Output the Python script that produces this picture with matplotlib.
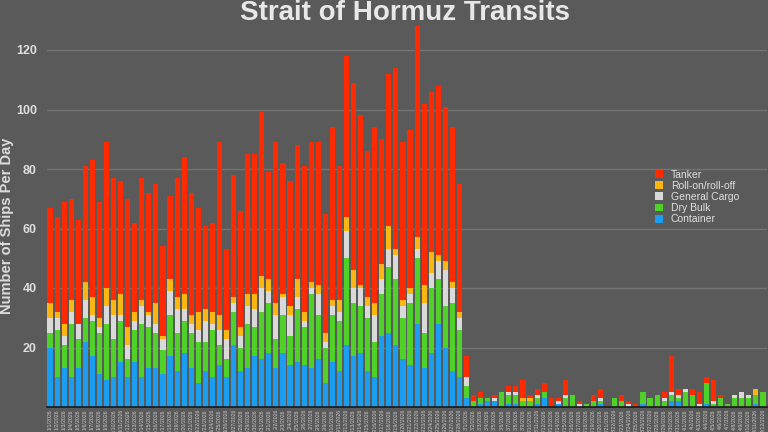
import matplotlib
matplotlib.use("Agg")
import matplotlib.pyplot as plt
from matplotlib.patches import Patch
import numpy as np
import pandas as pd

plt.rcParams['font.family'] = ['Liberation Sans', 'DejaVu Sans']

dates = pd.date_range('2026-01-01', periods=102)
labels = [f"{d.month}/{d.day}/{d.year}" for d in dates]

container = [20,10,13,10,13,22,17,11,9,10,15,10,15,10,13,13,11,17,12,18,
             13,8,12,10,14,10,21,12,13,17,16,18,13,18,14,15,14,13,16,8,
             15,12,21,17,18,12,10,24,25,21,16,14,28,13,18,28,20,12,10,3,
             0,1,2,2,0,1,1,0,0,1,3,0,1,0,0,0,0,0,1,0,
             0,0,0,0,1,0,0,0,2,2,0,0,0,1,0,0,0,0,0,0,1,0]
dry_bulk = [5,16,8,18,10,8,12,14,19,13,14,6,11,18,14,12,8,14,13,11,
            12,14,10,16,7,6,11,8,15,10,16,17,10,13,10,18,13,25,15,12,
            16,17,29,18,16,18,12,14,22,22,14,21,22,12,22,15,14,23,16,4,
            2,2,1,0,5,3,3,2,2,2,2,0,0,3,4,0,1,2,1,0,
            3,2,0,0,4,3,4,2,2,1,5,4,0,7,1,3,1,3,3,3,3,5]
general_cargo = [5,4,3,4,5,6,2,2,6,8,2,5,3,6,4,3,4,8,8,4,
                 3,4,7,2,5,7,3,4,6,6,8,4,8,6,7,4,2,2,7,2,
                 3,3,9,5,6,4,9,5,6,8,4,3,3,10,5,6,12,5,4,3,
                 0,0,0,1,0,1,1,0,0,1,0,0,1,1,0,1,0,0,1,0,
                 0,0,1,0,0,0,0,1,1,1,1,0,1,0,1,0,0,1,2,1,0,0]
roro = [5,2,4,4,0,6,6,3,6,5,7,6,3,2,1,7,1,4,4,5,
        3,6,4,4,5,3,2,3,4,5,4,4,4,1,3,6,3,2,3,3,
        2,4,5,6,1,3,4,5,8,2,2,2,4,6,7,2,3,2,2,0,
        0,0,0,0,0,0,0,1,1,0,0,0,0,0,0,0,0,0,0,0,
        0,0,0,0,0,0,0,0,0,0,0,0,0,0,0,0,0,0,0,0,2,0]
tanker = [32,32,41,34,35,39,46,39,49,41,38,43,30,41,40,40,30,28,40,46,
          41,35,28,30,58,27,41,39,47,47,55,36,54,44,42,45,49,47,48,40,
          58,45,54,63,57,49,59,42,51,61,53,53,71,61,54,57,52,52,43,7,
          2,2,0,1,0,2,2,6,1,2,3,3,1,5,0,1,0,2,3,0,
          0,2,1,1,0,0,0,2,12,2,0,2,4,2,7,1,0,0,0,0,0,0]

series = [("Container", container, '#1c9ef0'),
          ("Dry Bulk", dry_bulk, '#4fd12a'),
          ("General Cargo", general_cargo, '#d9d9d9'),
          ("Roll-on/roll-off", roro, '#fbb614'),
          ("Tanker", tanker, '#ff2a00')]

BG = '#5a5a5a'
fig = plt.figure(figsize=(7.68, 4.32), dpi=100, facecolor=BG)
ax = fig.add_axes([46.5/768, 1-407/432, (766.5-46.5)/768, (407-20.25)/432])
ax.set_facecolor(BG)

x = np.arange(len(labels))
bottom = np.zeros(len(labels))
for name, vals, col in series:
    v = np.array(vals, dtype=float)
    ax.bar(x, v, bottom=bottom, width=0.72, color=col, edgecolor='none', zorder=3)
    bottom += v

ax.set_xlim(-0.5, len(labels)-0.5)
ax.set_ylim(0, 130)
ax.set_yticks([20, 40, 60, 80, 100, 120])
ax.yaxis.grid(True, color='#747474', linewidth=1.0, zorder=0)
ax.tick_params(axis='y', length=0, pad=7, labelsize=9, labelcolor='#dedede')
for t in ax.get_yticklabels():
    t.set_fontweight('bold')
ax.set_xticks(x)
ax.set_xticklabels(labels, rotation=90, fontsize=3.8, color='#c8c8c8')
ax.tick_params(axis='x', length=0, pad=1.5)
for s in ['top', 'right', 'left']:
    ax.spines[s].set_visible(False)
ax.spines['bottom'].set_color('#1a1a1a')
ax.spines['bottom'].set_linewidth(1.2)
ax.spines['bottom'].set_zorder(4)

fig.text(405/768, 1-20/432, "Strait of Hormuz Transits", ha='center', va='baseline',
         fontsize=20, fontweight='bold', color='#e8e8e8')
fig.text(7/768, 1-226/432, "Number of Ships Per Day", rotation=90, ha='center', va='center',
         fontsize=10.5, fontweight='bold', color='#dcdcdc')

handles = [Patch(facecolor=col, edgecolor='none', label=name) for name, _, col in reversed(series)]
leg = fig.legend(handles=handles, loc='upper left', bbox_to_anchor=(655/768, 1-170/432),
                 frameon=False, fontsize=7.5, handlelength=0.8, handleheight=0.8,
                 handletextpad=0.7, labelspacing=0.1, borderpad=0, borderaxespad=0)
for t in leg.get_texts():
    t.set_color('#e0e0e0')

fig.savefig('out.png', dpi=100, facecolor=BG)
